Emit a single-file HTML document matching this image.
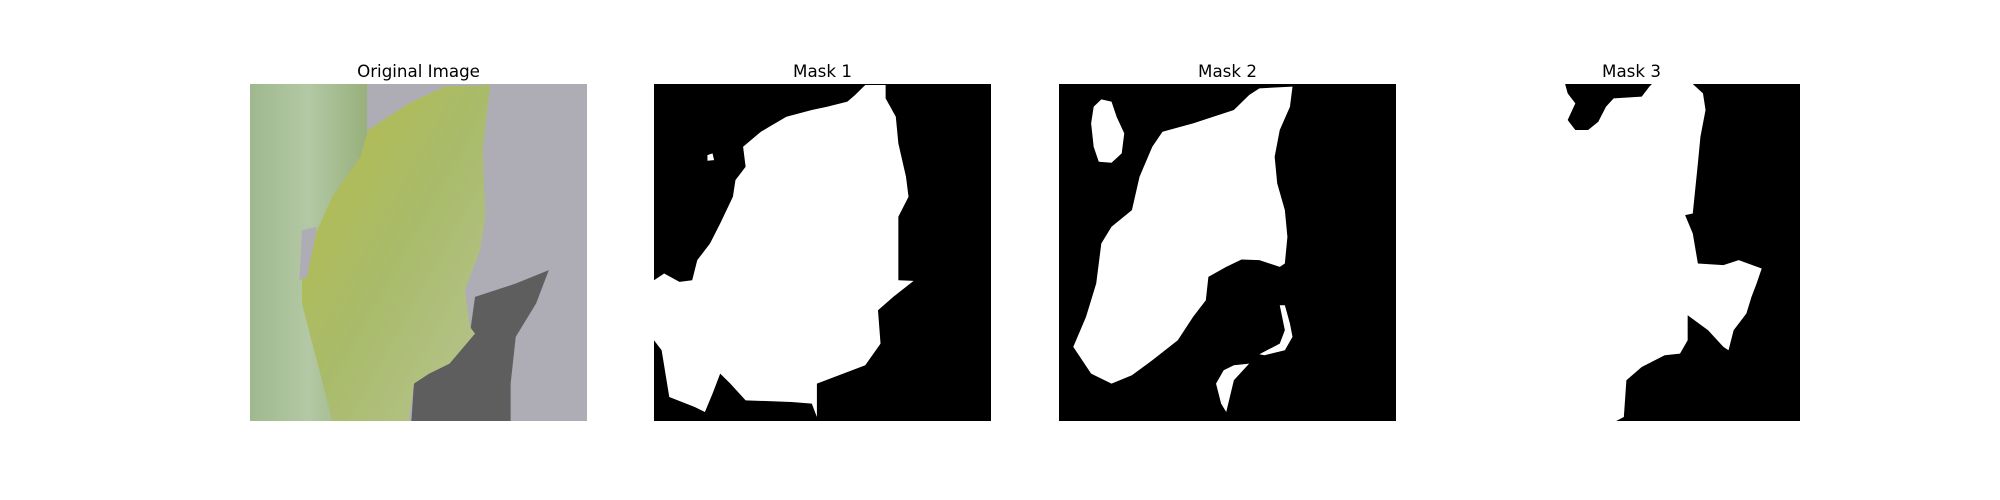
<!DOCTYPE html>
<html><head><meta charset="utf-8"><style>
body{margin:0;background:#fff;width:2000px;height:500px;overflow:hidden;position:relative;font-family:"DejaVu Sans","Liberation Sans",sans-serif}
.t{position:absolute;top:61px;width:337px;text-align:center;font-size:16.7px;color:#000}
svg.p{position:absolute;top:84px;width:337px;height:337px}
</style></head><body>
<div class="t" style="left:250px">Original Image</div>
<div class="t" style="left:654px">Mask 1</div>
<div class="t" style="left:1059px">Mask 2</div>
<div class="t" style="left:1463px">Mask 3</div>

<svg class="p" style="left:250px" viewBox="38 102 662 1010" preserveAspectRatio="none">
<defs>
<linearGradient id="g1" x1="0" y1="0" x2="1" y2="0"><stop offset="0" stop-color="#9fb98f"/><stop offset="0.5" stop-color="#b3c8a4"/><stop offset="1" stop-color="#98b07c"/></linearGradient>
<linearGradient id="g2" x1="0" y1="0" x2="1" y2="1"><stop offset="0" stop-color="#b7bd4a"/><stop offset="0.5" stop-color="#a9bb6a"/><stop offset="1" stop-color="#b8c592"/></linearGradient>
</defs>
<rect x="38" y="102" width="662" height="1010" fill="#aeadb5"/>
<rect x="38" y="102" width="230" height="1010" fill="url(#g1)"/>
<path d="M360,1000 420,920 470,850 480,740 560,700 625,660 600,760 560,860 550,1000 550,1112 355,1112Z" fill="#5f5e5f"/>
<path d="M255,320 270,240 350,160 420,110 510,105 495,300 500,500 490,600 460,720 470,830 480,850 430,940 390,970 360,1000 350,1112 200,1112 140,760 140,680 170,540 200,440Z" fill="url(#g2)"/>
<path d="M140,540 170,530 150,680 135,690Z" fill="#aeadb5"/>
</svg>

<svg class="p" style="left:654px" viewBox="830 102 662 1010" preserveAspectRatio="none">
<rect x="830" y="102" width="662" height="1010" fill="#000"/>
<path d="M1225,135 1245,105 1285,105 1285,145 1305,200 1310,280 1325,380 1330,440 1310,500 1310,690 1340,692 1300,740 1270,780 1275,880 1245,945 1150,1000 1150,1100 1140,1060 1100,1055 1010,1050 980,1000 960,970 945,1030 930,1085 910,1070 860,1040 845,900 830,870 830,690 850,670 880,695 905,690 915,630 940,580 960,520 985,440 990,390 1010,350 1005,290 1040,245 1090,200 1140,180 1170,170 1210,155Z" fill="#fff"/>
<path d="M935,315 945,310 948,330 935,332Z" fill="#fff"/>
</svg>

<svg class="p" style="left:1059px" viewBox="37 102 661 1010" preserveAspectRatio="none">
<rect x="37" y="102" width="661" height="1010" fill="#000"/>
<path d="M120,148 140,155 150,200 165,250 160,310 140,338 115,335 105,290 100,220 105,170Z" fill="#fff"/>
<path d="M430,115 495,110 490,170 470,240 460,320 465,400 480,480 485,560 480,640 470,650 430,630 395,628 365,650 330,680 325,750 300,800 270,870 220,930 180,975 140,1000 100,970 65,890 90,800 110,700 120,580 140,530 180,480 195,380 220,290 240,245 300,220 380,180 410,135Z" fill="#fff"/>
<path d="M470,765 480,765 490,820 495,860 480,900 440,915 430,912 470,880 480,840Z" fill="#fff"/>
<path d="M380,945 410,940 380,990 365,1085 355,1060 345,1000 360,960Z" fill="#fff"/>
</svg>

<svg class="p" style="left:1463px" viewBox="830 102 660 1010" preserveAspectRatio="none">
<rect x="830" y="102" width="660" height="1010" fill="#000"/>
<path d="M830,102 1030,102 1035,130 1050,160 1035,210 1050,240 1075,240 1095,215 1110,170 1125,145 1180,140 1195,110 1200,102 1280,102 1300,130 1305,180 1295,260 1290,340 1280,490 1265,495 1280,550 1290,640 1340,645 1370,630 1415,655 1405,700 1395,740 1385,790 1360,840 1350,900 1340,890 1310,840 1270,795 1270,870 1255,910 1225,915 1180,950 1150,990 1145,1100 1130,1112 830,1112Z" fill="#fff"/>
</svg>
</body></html>
